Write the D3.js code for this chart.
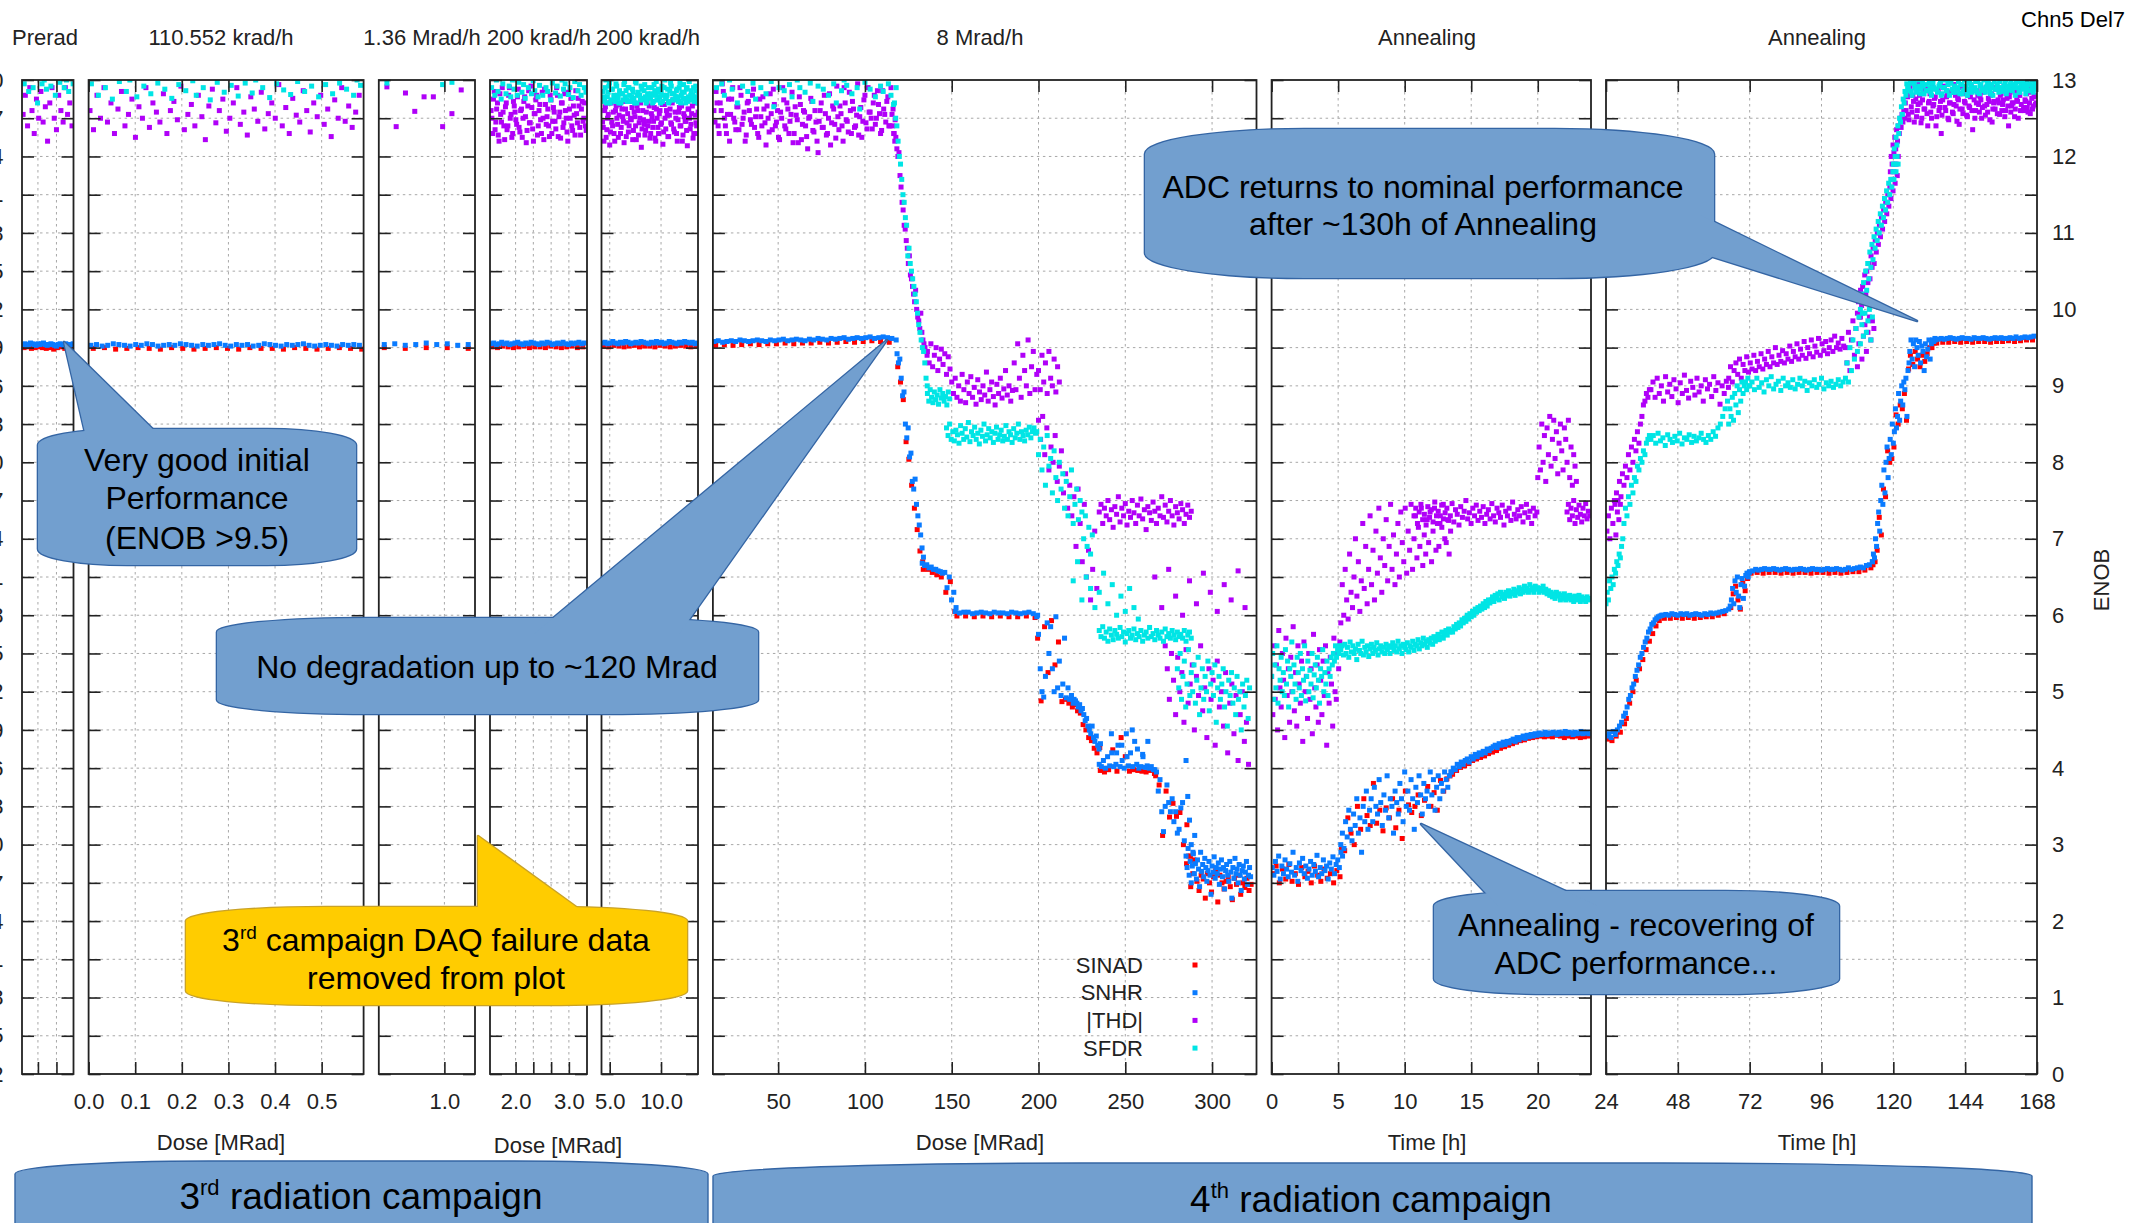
<!DOCTYPE html>
<html>
<head>
<meta charset="utf-8">
<script src="https://cdn.jsdelivr.net/npm/d3@7"></script>
<style>
  body { margin: 0; background: #fff; }
  svg text { font-family: "Liberation Sans", Arial, sans-serif; }
  .grid { stroke: #a8a8a8; stroke-width: 1; stroke-dasharray: 2.5,3.5; }
</style>
</head>
<body>
<div id="chart"></div>
<script>
// ---------------- data ----------------
const seriesNames = ["SINAD", "SNHR", "|THD|", "SFDR"];
const panelTitles = ["Prerad", "110.552 krad/h", "1.36 Mrad/h", "200 krad/h", "200 krad/h", "8 Mrad/h", "Annealing", "Annealing"];
const panelDomains = [[0.14, 2.92], [0, 0.59], [0.7, 1.14], [1.52, 3.34], [4.2, 13.6], [12.4, 325.6], [0, 24], [24, 168]];
const panelTicks = [[1, 2], [0, 0.1, 0.2, 0.3, 0.4, 0.5], [1.0], [2, 2.333, 2.667, 3], [5, 10],
  [50, 100, 150, 200, 250, 300], [0, 5, 10, 15, 20], [24, 48, 72, 96, 120, 144, 168]];
const panelTickLabels = [["", ""], ["0.0", "0.1", "0.2", "0.3", "0.4", "0.5"], ["1.0"], ["2.0", "", "", "3.0"], ["5.0", "10.0"],
  ["50", "100", "150", "200", "250", "300"], ["0", "5", "10", "15", "20"], ["24", "48", "72", "96", "120", "144", "168"]];
const xTitleText = ["Dose [MRad]", "Dose [MRad]", "Dose [MRad]", "Time [h]", "Time [h]"];
const enobLabels = [0, 1, 2, 3, 4, 5, 6, 7, 8, 9, 10, 11, 12, 13];
const dbLabels = [2, 5, 8, 11, 14, 17, 20, 23, 26, 29, 32, 35, 38, 41, 44, 47, 50, 53, 56, 59, 62, 65, 68, 71, 74, 77, 80];

// each series: list of segments [x0, step, [ENOB values]]
const p1_sinad = [[0.25, 0.2, [9.5,9.51,9.49,9.5,9.51,9.5,9.49,9.5,9.48,9.5,9.51,9.49,9.5,9.5]]];
const p1_snhr = [[0.2, 0.1, [9.54,9.55,9.53,9.54,9.56,9.55,9.54,9.53,9.55,9.54,9.55,9.56,9.54,9.53,9.54,9.55,9.54,9.53,9.52,9.54,9.55,9.54,9.53,9.55,9.54,9.53,9.54,9.55]]];
const p1_thd = [[0.2, 0.12, [12.55,12.8,12.4,12.9,12.6,12.3,12.75,12.5,12.85,12.45,12.65,12.2,12.7,12.9,12.5,12.35,12.8,12.6,12.45,12.9,12.55,12.7,12.4]]];
const p1_sfdr = [[0.26, 0.12, [12.95,13.1,12.85,13.2,12.9,13.05,12.7,13.15,12.95,13.0,12.88,13.1,12.92,13.2,12.8,13.05,12.97,13.1,12.9,13.0,12.85,13.15,12.95]]];

const p2_sinad = [[0.01, 0.024, [9.49,9.5,9.48,9.49,9.5,9.49,9.48,9.5,9.49,9.48,9.49,9.5,9.49,9.48,9.5,9.49,9.49,9.48,9.5,9.49,9.48,9.49,9.5,9.49,9.48]]];
const p2_snhr = [[0.005, 0.012, [9.53,9.54,9.52,9.53,9.55,9.54,9.53,9.52,9.54,9.53,9.55,9.54,9.52,9.53,9.54,9.53,9.55,9.54,9.53,9.52,9.54,9.53,9.54,9.55,9.53,9.52,9.54,9.53,9.54,9.52,9.53,9.55,9.54,9.53,9.52,9.54,9.53,9.54,9.55,9.53,9.52,9.53,9.54,9.53,9.52,9.54,9.53,9.54,9.53]]];
const p2_thd = [[0.003, 0.0075, [12.6,12.35,12.8,12.5,12.9,12.45,12.7,12.3,12.62,12.85,12.4,12.55,12.75,12.25,12.65,12.5,12.9,12.38,12.7,12.58,
  12.45,12.82,12.3,12.6,12.72,12.48,12.92,12.35,12.55,12.68,12.4,12.8,12.52,12.22,12.66,12.88,12.44,12.6,12.75,12.33,
  12.5,12.7,12.9,12.42,12.58,12.28,12.78,12.62,12.46,12.84,12.36,12.56,12.7,12.5,12.94,12.4,12.64,12.3,12.76,12.54,
  12.45,12.86,12.6,12.32,12.7,12.52,12.8,12.42,12.62,12.26,12.74,12.5,12.9,12.46,12.66,12.38,12.58,12.8]]];
const p2_sfdr = [[0.006, 0.0075, [12.95,13.2,12.8,13.05,12.9,13.25,12.75,13.1,12.98,13.3,12.85,13.0,13.15,12.78,13.22,12.92,13.05,12.82,13.18,12.96,
  13.1,12.88,13.28,12.76,13.02,12.94,13.2,12.86,13.12,12.99,12.8,13.25,12.9,13.08,12.74,13.16,12.97,13.3,12.84,13.04,
  12.93,13.2,12.79,13.1,12.96,13.26,12.83,13.0,13.14,12.9,13.22,12.77,13.06,12.95,13.18,12.87,13.3,12.81,13.02,12.98,
  13.12,12.85,13.24,12.92,13.06,12.78,13.2,12.94,13.1,12.82,13.28,12.96,13.04,12.88,13.16,12.8,13.0,12.93]]];

const p3_sinad = [[0.725, 0.096, [9.5,9.49,9.5,9.5,9.49]]];
const p3_snhr = [[0.725, 0.048, [9.54,9.55,9.53,9.54,9.56,9.54,9.55,9.53,9.54]]];
const p3_thd = [[0.737, 0.0425, [12.91,12.39,12.83,12.59,12.78,12.78,12.39,12.56,12.87]]];
const p3_sfdr = [[0.737, 0.0425, [12.96,13.2,13.1,13.3,13.15,13.2,12.94,12.97,13.1]]];

const p4_sinad = [[1.56, 0.1, [9.51,9.5,9.52,9.51,9.5,9.51,9.52,9.5,9.51,9.51,9.5,9.52,9.51,9.5,9.51,9.52,9.5,9.51]]];
const p4_snhr = [[1.54, 0.05, [9.55,9.56,9.54,9.55,9.57,9.55,9.56,9.54,9.55,9.56,9.57,9.55,9.54,9.56,9.55,9.57,9.56,9.55,9.54,9.56,9.55,9.57,9.56,9.54,9.55,9.56,9.55,9.57,9.55,9.54,9.56,9.55,9.56,9.57,9.55,9.56]]];
const p4_thd = [
  [1.54, 0.03, [12.6,12.3,12.85,12.45,12.7,12.2,12.55,12.9,12.4,12.65,12.35,12.8,12.5,12.25,12.72,12.58,12.42,12.88,12.32,12.62,
    12.5,12.78,12.18,12.66,12.44,12.92,12.36,12.56,12.74,12.28,12.6,12.48,12.84,12.22,12.68,12.52,12.4,12.8,12.3,12.64,
    12.46,12.9,12.26,12.58,12.7,12.38,12.82,12.5,12.2,12.62,12.76,12.34,12.54,12.86,12.44,12.66,12.28,12.72,12.5,12.4]],
  [1.555, 0.03, [12.5,12.75,12.35,12.62,12.28,12.82,12.45,12.58,12.22,12.7,12.4,12.9,12.55,12.3,12.66,12.48,12.78,12.38,12.6,12.25,
    12.72,12.52,12.34,12.86,12.44,12.64,12.2,12.56,12.8,12.4,12.68,12.3,12.5,12.88,12.42,12.62,12.26,12.74,12.46,12.58,
    12.36,12.8,12.52,12.24,12.7,12.44,12.6,12.32,12.84,12.5,12.4,12.66,12.28,12.56,12.76,12.38,12.62,12.46,12.7,12.34]]
];
const p4_sfdr = [[1.55, 0.03, [12.9,13.1,12.8,13.0,12.85,13.2,12.75,12.95,13.05,12.82,13.15,12.92,12.78,13.0,12.88,13.25,12.8,12.97,13.1,12.84,
  12.94,12.76,13.05,12.9,13.2,12.82,12.99,12.86,13.12,12.78,12.93,13.02,12.8,13.18,12.9,12.85,13.06,12.74,12.96,13.1,
  12.83,12.92,13.22,12.79,13.0,12.88,12.95,13.14,12.81,12.9,13.04,12.77,12.98,13.2,12.86,12.94,12.8,13.08,12.9,12.84]]];

const p5_sinad = [[4.4, 0.5, [9.52,9.51,9.53,9.52,9.51,9.52,9.53,9.51,9.52,9.52,9.51,9.53,9.52,9.51,9.52,9.53,9.52,9.51,9.52]]];
const p5_snhr = [[4.3, 0.25, [9.56,9.57,9.55,9.56,9.58,9.56,9.55,9.57,9.56,9.58,9.57,9.55,9.56,9.57,9.56,9.58,9.57,9.56,9.55,9.57,9.56,9.58,9.56,9.57,9.55,9.56,9.58,9.57,9.56,9.55,9.57,9.56,9.58,9.57,9.56,9.57,9.55,9.56]]];
const p5_thd = [
  [4.3, 0.14, [12.45,12.2,12.65,12.35,12.55,12.15,12.7,12.4,12.3,12.6,12.5,12.25,12.68,12.38,12.52,12.18,12.62,12.44,12.32,12.72,
    12.48,12.22,12.58,12.4,12.66,12.28,12.5,12.12,12.6,12.42,12.34,12.7,12.46,12.24,12.56,12.38,12.64,12.2,12.5,12.3,
    12.6,12.44,12.16,12.68,12.36,12.54,12.26,12.62,12.42,12.74,12.32,12.5,12.2,12.58,12.4,12.66,12.28,12.52,12.46,12.14,
    12.62,12.36,12.56,12.24,12.7,12.44,12.3]],
  [4.37, 0.14, [12.38,12.6,12.25,12.5,12.7,12.32,12.45,12.58,12.2,12.66,12.42,12.54,12.3,12.62,12.46,12.72,12.26,12.56,12.4,12.5,
    12.64,12.34,12.52,12.22,12.6,12.44,12.7,12.36,12.48,12.28,12.58,12.4,12.66,12.3,12.52,12.46,12.24,12.62,12.38,12.56,
    12.42,12.68,12.32,12.5,12.6,12.26,12.54,12.44,12.7,12.36,12.58,12.3,12.48,12.64,12.4,12.2,12.56,12.46,12.34,12.62,
    12.5,12.42,12.66,12.3,12.54,12.4,12.58]]
];
const p5_sfdr = [
  [4.35, 0.14, [12.85,12.72,13.0,12.78,12.92,12.7,12.88,13.1,12.75,12.95,12.8,12.7,13.05,12.82,12.74,12.98,12.86,12.72,12.9,13.15,
    12.78,12.84,12.7,12.96,12.8,13.02,12.74,12.88,12.76,12.94,12.7,12.82,13.08,12.78,12.9,12.72,12.86,12.98,12.74,12.84,
    12.7,12.92,12.8,13.0,12.76,12.88,12.72,12.96,12.82,12.74,13.04,12.86,12.78,12.9,12.7,12.84,12.94,12.76,12.88,12.72,
    12.98,12.8,12.74,12.9,12.78,12.86,12.7]],
  [4.42, 0.14, [12.78,12.9,12.7,12.84,12.96,12.74,12.88,12.8,12.72,12.92,12.76,12.86,12.7,12.82,12.94,12.78,12.74,12.9,12.8,12.72,
    12.88,12.76,12.98,12.7,12.84,12.8,12.92,12.74,12.86,12.78,12.72,12.9,12.76,12.82,12.7,12.94,12.8,12.74,12.88,12.78,
    12.84,12.72,12.9,12.76,12.8,12.7,12.86,12.92,12.74,12.82,12.78,12.88,12.72,12.96,12.8,12.76,12.84,12.7,12.9,12.78,
    12.74,12.86,12.8,12.72,12.92,12.76,12.84]]
];

const p6_sinad = [
  [14, 5, [9.53,9.54,9.53,9.54,9.55,9.54,9.55,9.55,9.56,9.55,9.56,9.56,9.57,9.56,9.57,9.58,9.57,9.58,9.59,9.58,9.57]],
  [118.9, 1.6, [9.25,9.05,8.82,8.27,8.04,7.7,7.4,7.12,6.84,6.7]],
  [133.6, 2.6, [6.6,6.6,6.56,6.53,6.5,6.3,6.44,6.05]],
  [153, 5, [5.99,5.99,5.98,5.99,5.98,5.99,5.98,5.98,5.99,5.97]],
  [199.5, 2, [5.7,4.88,5.85,5.25,5.93,5.35,5.65,4.87,4.9,4.85,4.8]],
  [220.9, 1.6, [4.83,4.75,4.72,4.57,4.5,4.4,4.36,4.26,4.2,4.27]],
  [235.6, 2.4, [3.97,3.95,3.98,4.24,3.96,4.4,4.15,3.96,3.98,3.97,3.96,3.95,3.97,3.93]],
  [267.5, 2, [3.9,3.78,3.12,3.7,3.36,3.54,3.37,3.42,3.0,3.26,2.85,2.8]],
  [285.3, 1.2, [2.75,2.85,2.45,2.62,2.78,2.52,2.4,2.6,2.55,2.3,2.62,2.5,2.38,2.58,2.66,2.25,2.6,2.5,2.42,2.52,2.58,2.45,2.28,2.56,2.48,2.6,2.35,2.5,2.44,2.56,2.4,2.48]]
];
const p6_snhr = [
  [13, 2.5, [9.58,9.59,9.57,9.58,9.59,9.58,9.6,9.59,9.58,9.59,9.6,9.59,9.58,9.6,9.59,9.6,9.61,9.59,9.6,9.61,
    9.6,9.59,9.61,9.6,9.62,9.61,9.6,9.62,9.61,9.62,9.63,9.61,9.62,9.63,9.62,9.63,9.64,9.62,9.63,9.64,9.63,9.62,9.6]],
  [118.5, 0.8, [9.42,9.3,9.35,9.1,8.87,8.92,8.5,8.32,8.45,8.07,8.12,7.75,7.65,7.78,7.45,7.3,7.18,7.05,6.88,6.76]],
  [133, 1.3, [6.68,6.65,6.66,6.62,6.63,6.6,6.6,6.58,6.57,6.55,6.56,6.36,6.5,6.2,6.3,6.1]],
  [152, 2.5, [6.05,6.03,6.04,6.04,6.02,6.03,6.04,6.03,6.02,6.04,6.03,6.03,6.02,6.04,6.03,6.02,6.03,6.04,6.02,6.0]],
  [199, 1.0, [5.98,5.75,5.3,5.0,4.93,5.2,5.9,5.5,5.85,5.3,5.0,5.98,5.05,5.4,4.95,5.1,5.7,4.92,5.05,4.9,4.95,4.85]],
  [220.5, 0.8, [4.9,4.88,4.85,4.8,4.83,4.75,4.78,4.7,4.62,4.65,4.55,4.5,4.45,4.55,4.4,4.35,4.42,4.3,4.25,4.32]],
  [242, 3, [4.45,4.2,4.3,4.15,4.5,4.25,4.18,4.35]],
  [235, 1.2, [4.05,4.02,4.1,4.0,4.15,4.03,4.2,4.02,4.05,4.3,4.02,4.1,4.0,4.45,4.03,4.2,4.02,4.35,4.05,4.0,4.02,4.15,4.01,4.03,4.0,4.02,3.98]],
  [267, 1.0, [3.98,3.95,3.7,3.85,3.43,3.17,3.5,3.78,3.55,3.43,3.6,3.3,3.43,3.15,3.2,3.48,3.55,3.05,4.1,3.63,3.32,3.0,2.9,3.12]],
  [285, 0.6, [2.85,2.7,2.95,2.6,2.78,2.5,2.72,2.88,2.62,2.75,2.55,2.8,2.68,2.45,2.9,2.65,2.74,2.58,2.82,2.7,
    2.52,2.66,2.78,2.6,2.35,2.72,2.64,2.84,2.56,2.7,2.62,2.76,2.48,2.68,2.8,2.58,2.7,2.42,2.66,2.74,
    2.6,2.52,2.78,2.64,2.3,2.7,2.56,2.82,2.62,2.68,2.5,2.74,2.6,2.4,2.66,2.72,2.55,2.64,2.78,2.48,2.6,2.7,2.58]]
];
const p6_thd = [
  [13, 1.2, [12.6,12.85,12.4,12.7,12.95,12.5,12.3,12.75,12.55,12.9,12.45,12.65,12.35,12.8,12.5,12.2,12.7,12.6,12.42,12.88,
    12.52,12.3,12.75,12.4,12.62,12.15,12.5,12.82,12.35,12.68,12.45,12.25,12.58,12.9,12.4,12.7,12.3,12.55,12.18,12.65,
    12.48,12.78,12.22,12.6,12.4,12.1,12.52,12.72,12.32,12.45,12.05,12.6,12.38,12.8,12.28,12.5,12.15,12.66,12.42,12.92,
    12.35,12.56,12.2,12.7,12.46,12.84,12.3,12.62,12.4,12.95,12.52,12.25,12.74,12.44,12.9,12.58,12.36,12.8,12.5,12.68,
    12.3,12.86,12.55,12.72,12.4,12.9,12.62,12.48]],
  [13.6, 1.2, [12.45,12.7,12.3,12.6,12.85,12.4,12.55,12.2,12.75,12.5,12.35,12.65,12.9,12.42,12.58,12.28,12.72,12.48,12.8,12.38,
    12.62,12.25,12.52,12.78,12.44,12.66,12.32,12.56,12.88,12.4,12.6,12.22,12.5,12.74,12.36,12.62,12.46,12.84,12.3,12.54,
    12.18,12.68,12.42,12.58,12.26,12.5,12.76,12.34,12.6,12.2,12.46,12.7,12.38,12.56,12.3,12.82,12.44,12.62,12.24,12.52,
    12.66,12.4,12.9,12.48,12.32,12.6,12.72,12.38,12.54,12.28,12.64,12.46,12.8,12.36,12.58,12.5,12.7,12.42,12.86,12.56,
    12.34,12.62,12.45,12.78,12.4,12.55,12.3]],
  [116, 0.6, [12.4,12.3,12.2,12.25,12.1,12.0,12.05,11.75,11.6,11.4,11.3,11.1,11.05,10.9,10.8,10.6,10.7,10.45,10.4,10.3,
    10.2,10.1,10.25,10.0,9.9,9.85,9.75,9.95,9.7,9.6,9.55,9.5,9.45,9.4]],
  [136, 1.0, [9.45,9.3,9.55,9.25,9.4,9.5,9.2,9.35,9.48,9.28,9.42,9.15,9.38,9.22,
    9.05,8.9,9.1,8.85,9.0,8.8,9.15,8.95,8.78,9.05,8.9,9.12,8.85,8.98,8.76,9.08,8.92,8.82,9.0,8.88,9.18,8.8,8.95,9.05,8.86,8.75,9.02,8.9,9.1,8.84,8.96,9.2,8.88,9.0,8.8,8.94,
    9.3,8.95,9.55,9.1,8.85,9.4,9.2,9.0,9.6,8.9,9.25,9.45,8.95,9.15]],
  [200, 1.0, [9.2,8.95,9.4,9.05,9.3,8.9,9.45,9.1,9.0,9.35,8.92,9.25,9.05]],
  [200, 1.2, [8.55,8.3,8.6,8.1,8.45,7.9,8.2,8.0,8.35,7.75,7.95,8.15,7.6,7.85,7.4,7.7,7.3,7.55,6.9,7.65,7.2,6.7,7.45,6.5,6.85,6.2,6.6,7.1,6.35]],
  [235, 1.0, [7.35,7.45,7.2,7.4,7.3,7.5,7.25,7.38,7.15,7.42,7.32,7.55,7.22,7.4,7.3,7.46,7.18,7.36,7.28,7.5,
    7.34,7.2,7.44,7.3,7.52,7.26,7.38,7.12,7.42,7.34,7.24,7.48,7.36,7.2,7.4,7.3,7.55,7.28,7.44,7.22,
    7.36,7.5,7.3,7.18,7.42,7.34,7.26,7.46,7.38,7.2,7.32,7.44,7.28,7.36]],
  [267, 4, [6.5,6.1,6.6,6.25,6.0,6.45,6.15,6.55,6.3,6.05,6.4,6.2,6.58,6.1]],
  [273, 1.2, [5.6,5.3,4.9,5.5,5.15,4.7,5.45,5.0,5.25,4.6,5.55,4.85,5.1,5.35,4.5,5.2,4.95,5.6,4.75,5.05,
    4.4,5.3,4.9,5.15,4.3,5.4,4.8,5.0,4.55,5.25,4.2,4.85,5.1,4.45,4.95,4.1,4.7,5.0,4.35,4.6,4.05]]
];
const p6_sfdr = [
  [13, 1.5, [13.1,12.9,13.25,12.95,12.8,13.15,13.0,12.88,13.2,12.7,13.05,12.92,13.3,12.85,13.1,12.96,12.75,13.2,12.9,13.05,
    12.82,13.15,12.98,12.65,13.25,12.9,13.08,12.86,13.18,12.94,12.78,13.1,13.0,12.9,13.22,12.84,13.06,12.96,12.72,13.15,
    12.92,13.28,12.88,13.02,12.8,13.12,12.95,12.7,13.2,12.86,13.0,12.93,13.16,12.82,13.05,12.9,12.62,13.1,12.97,13.25,
    12.88,13.04,12.78,13.14,12.92,12.85,13.2,12.95,12.8,12.68,12.9]],
  [117, 0.7, [12.7,12.5,12.4,12.2,12.0,11.9,11.7,11.5,11.4,11.2,11.1,10.7,10.8,10.6,10.5,10.4,10.3,10.2,10.1,9.95,9.8,9.7,9.6,9.5,9.45,9.3,9.1,9.0]],
  [136, 0.8, [8.9,8.8,8.95,8.85,8.78,8.92,8.82,8.88,8.76,8.95,8.84,8.9,8.8,8.86,8.75,8.92,8.83]],
  [147, 0.9, [8.45,8.35,8.5,8.3,8.4,8.28,8.42,8.36,8.25,8.48,8.38,8.3,8.44,8.33,8.52,8.27,8.4,8.35,8.46,8.3,
    8.38,8.24,8.42,8.34,8.5,8.28,8.36,8.44,8.32,8.4,8.26,8.38,8.46,8.3,8.36,8.42,8.28,8.34,8.48,8.3,
    8.4,8.36,8.26,8.44,8.32,8.38,8.5,8.3,8.4,8.35,8.28,8.42,8.36,8.46,8.32,8.4,8.45,8.38]],
  [199, 1.0, [8.4,8.1,8.3,7.9,8.2,7.7,8.35,7.95,8.05,7.6,8.15,7.8,7.5,8.0,7.65,7.85,7.4,7.75,7.3,7.55,7.9,7.2,7.45,7.65,7.25,7.5,7.35,7.0,7.3,6.9,7.15,6.8,7.05]],
  [220, 2.5, [6.45,6.7,6.2,6.5,6.35,6.1,6.3,6.55,6.15,6.4,6.0,6.25,6.05,6.35,6.1,5.95]],
  [235, 1.0, [5.8,5.72,5.85,5.7,5.78,5.66,5.82,5.74,5.68,5.8,5.75,5.7,5.84,5.72,5.78,5.65,5.76,5.8,5.7,5.74,
    5.82,5.68,5.76,5.72,5.8,5.66,5.74,5.78,5.7,5.84,5.72,5.76,5.68,5.8,5.74,5.7,5.78,5.66,5.82,5.72,
    5.76,5.7,5.8,5.74,5.68,5.78,5.72,5.75,5.7,5.8,5.66,5.74,5.78,5.7]],
  [280, 0.8, [5.3,5.05,5.5,4.9,5.2,5.4,4.8,5.1,5.55,4.95,5.25,5.0,5.35,4.85,5.15,5.45,4.7,5.05,5.3,4.9,
    5.2,5.0,5.4,4.75,5.1,5.25,4.95,5.35,4.6,5.05,5.2,4.9,5.1,5.3,4.8,5.0,4.55,5.15,4.95,5.25,
    4.85,5.05,4.7,5.2,4.9,5.0,4.5,5.1,4.8,4.95,5.15,4.65,5.05]]
];

const p7_sinad = [
  [0.1, 0.24, [2.62,2.72,2.5,2.68,2.55,2.74,2.52,2.62,2.48,2.7,2.58,2.65,2.5,2.72,2.6,2.52,2.68,2.56,2.62,2.5,2.66,2.58]],
  [5.25, 0.24, [2.95,2.92,3.35,3.15,3.0,3.5,3.2,3.6,3.38,3.25,3.8,3.28,3.45,3.18,3.48,3.35,3.6,3.22,3.45,3.08,3.7,3.52,3.42,3.5,3.65,3.38,3.58,3.76,3.5,3.68,3.45,3.84,3.7,3.86,3.9]],
  [13.6, 0.3, [3.92,3.97,4.01,4.03,4.06,4.1,4.12,4.14,4.16,4.19]],
  [16.6, 0.3, [4.21,4.23,4.26,4.28,4.3,4.32,4.34,4.36,4.37,4.39,4.4,4.41,4.42,4.41,4.42,4.41,4.43,4.42,4.4,4.42,4.41,4.42,4.4,4.41,4.42]]
];
const p7_snhr = [
  [0.05, 0.12, [2.7,2.6,2.78,2.65,2.85,2.55,2.72,2.62,2.8,2.68,2.58,2.75,2.64,2.9,2.6,2.7,2.52,2.76,2.66,2.82,
    2.62,2.72,2.56,2.68,2.78,2.6,2.74,2.65,2.86,2.58,2.7,2.62,2.8,2.66,2.72,2.55,2.76,2.68,2.84,2.62,2.74,2.8,2.7,2.9,2.85]],
  [5.2, 0.12, [3.0,3.15,2.95,3.3,3.1,3.45,3.2,3.05,3.4,3.25,3.6,3.15,3.35,2.9,3.5,3.3,3.7,3.2,
    3.45,3.6,3.3,3.75,3.5,3.4,3.85,3.55,3.25,3.65,3.45,3.9,3.35,3.6,3.5,3.15,3.7,3.55,
    3.4,3.8,3.6,3.3,3.95,3.5,3.7,3.45,3.85,3.6,3.2,3.75,3.55,3.9,3.65,3.4,3.8,3.6,
    3.7,3.5,3.95,3.65,3.85,3.45,3.75,3.9,3.6,3.8,3.7,3.95,3.85,3.75,3.9,3.95]],
  [13.5, 0.15, [3.95,4.0,3.98,4.05,4.02,4.08,4.05,4.1,4.12,4.08,4.15,4.12,4.18,4.15,4.2,4.18,4.22,4.2,4.25,4.23]],
  [16.5, 0.15, [4.26,4.28,4.3,4.27,4.32,4.3,4.34,4.31,4.35,4.33,4.36,4.38,4.35,4.4,4.37,4.4,4.42,4.39,4.43,4.41,
    4.44,4.42,4.45,4.43,4.46,4.44,4.45,4.47,4.44,4.46,4.45,4.47,4.46,4.44,4.47,4.45,4.46,4.48,4.45,4.47,
    4.46,4.44,4.47,4.45,4.46,4.48,4.45,4.46,4.47,4.45]]
];
const p7_thd = [
  [0, 0.09, [5.2,4.7,5.6,4.9,5.35,4.5,5.8,5.05,4.8,5.5,5.15,4.4,5.7,4.95,5.3,4.6,5.45,5.0,5.85,4.75,
    5.25,4.55,5.6,5.1,4.85,5.4,4.35,5.65,5.0,5.2,4.65,5.5,4.9,5.3,4.45,5.75,5.05,4.8,5.35,4.6,
    5.55,5.15,4.7,5.4,4.95,5.6,4.3,5.25,4.85,5.45,5.1,4.55,5.7,5.0,4.9,5.5,5.3,5.65]],
  [5.2, 0.11, [5.9,6.4,6.0,6.6,6.2,5.95,6.8,6.3,6.1,6.5,7.0,6.25,6.7,6.05,6.45,7.2,6.35,6.9,6.15,
    6.6,7.3,6.4,6.85,6.2,7.1,6.55,7.4,6.75,6.3,7.0,6.65,7.25,6.45,6.9,7.45,6.6,7.05,6.4,
    6.8,7.2,6.5,7.35,6.95,6.7,7.4,6.55,7.1,6.85,7.45,6.6,7.0,7.3,6.75,7.15,6.9,7.4,6.65,
    7.05,6.8,7.25,6.95,7.35,6.7,7.1,7.4,6.85,7.2,6.9,7.3,7.15,7.45,7.0,6.95,7.25,6.8,7.1]],
  [10.7, 0.13, [7.3,7.4,7.2,7.35,7.45,7.25,7.32,7.18,7.42,7.28,7.38,7.22,7.48,7.3,7.36,7.2,7.44,7.26,7.34,7.4,
    7.24,7.3,7.46,7.22,7.38,7.32,7.18,7.42,7.28,7.36,7.5,7.26,7.34,7.2,7.4,7.3,7.44,7.24,7.36,7.28,
    7.42,7.2,7.32,7.38,7.26,7.46,7.3,7.22,7.4,7.34,7.28,7.44,7.18,7.36,7.3,7.4,7.24,7.48,7.32,7.26,
    7.38,7.3,7.42,7.22,7.34,7.45,7.28,7.36,7.2,7.4,7.3,7.35]],
  [20, 0.1, [7.8,8.2,7.9,8.5,8.0,8.35,7.75,8.45,8.1,8.6,7.95,8.3,8.55,8.05,8.4,7.85,8.25,8.5,8.15,7.9,8.45,8.3,8.0,8.55,7.8,8.2,7.7,8.1,7.95,7.75]],
  [22.2, 0.1, [7.35,7.45,7.25,7.4,7.3,7.5,7.2,7.38,7.28,7.44,7.32,7.22,7.4,7.3,7.46,7.26,7.36,7.3]]
];
const p7_sfdr = [
  [0, 0.08, [5.2,5.5,4.9,5.35,5.05,5.6,4.85,5.3,5.15,5.45,5.0,5.25,4.95,5.55,5.1,5.4,4.8,5.3,5.2,5.65,
    5.0,5.35,5.1,4.9,5.45,5.25,5.05,5.5,4.95,5.3,5.15,5.6,4.88,5.2,5.4,5.0,5.28,5.1,5.5,4.92,
    5.22,5.35,5.05,5.45,5.15,4.85,5.3,5.2,5.55,5.0,5.25,5.1,5.4,4.95,5.3,5.2,5.45,5.35,5.5,5.4,5.6,5.45,5.55,5.5,5.6]],
  [5.2, 0.1, [5.55,5.6,5.48,5.62,5.5,5.58,5.45,5.65,5.52,5.6,5.5,5.56,5.42,5.62,5.54,5.5,5.66,5.48,5.58,5.52,
    5.6,5.46,5.56,5.62,5.5,5.58,5.54,5.64,5.48,5.56,5.6,5.52,5.58,5.5,5.62,5.55,5.6,5.5,5.58,5.64,
    5.54,5.6,5.52,5.66,5.56,5.6,5.5,5.62,5.58,5.55,5.64,5.52,5.6,5.58,5.66,5.54,5.62,5.6,5.68,5.56,
    5.64,5.6,5.7,5.62,5.66,5.58,5.68,5.64,5.7,5.62,5.72,5.66,5.7,5.75,5.68,5.72,5.78,5.7,5.76,5.8,5.74,5.82,5.78]],
  [13.5, 0.1, [5.8,5.78,5.85,5.82,5.88,5.84,5.9,5.86,5.94,5.9,5.96,5.92,6.0,5.95,6.02,5.98,6.05,6.0,6.08,6.04,6.1,6.06,6.12,6.08,6.15,6.1,6.18,6.12,6.2,6.16]],
  [16.5, 0.1, [6.2,6.24,6.18,6.26,6.22,6.28,6.2,6.3,6.24,6.27,6.22,6.3,6.26,6.32,6.25,6.3,6.28,6.34,6.26,6.32,
    6.3,6.36,6.28,6.34,6.3,6.38,6.32,6.35,6.3,6.4,6.33,6.36,6.3,6.38,6.34,6.36,6.3,6.35,6.32,6.38,
    6.3,6.34,6.28,6.32,6.26,6.3,6.24,6.28,6.22,6.3,6.25,6.28,6.2,6.26,6.22,6.28,6.2,6.25,6.22,6.26,
    6.2,6.24,6.18,6.25,6.22,6.2,6.26,6.18,6.24,6.2,6.22,6.18,6.24,6.2,6.22]]
];

const p8_sinad = [
  [24.6, 1.4, [4.38,4.36,4.42,4.47,4.58]],
  [30.8, 1.1, [4.65,4.85,5.0,5.15,5.3,5.42,5.55,5.66,5.76,5.86,5.93]],
  [43.5, 2, [5.96,5.96,5.97,5.96,5.97,5.96,5.97,5.98,5.98,6.0,6.02]],
  [65.7, 0.8, [6.1,6.28,6.38,6.2,6.08,6.42,6.32,6.48]],
  [72.5, 2, [6.55,6.56,6.55,6.56,6.56,6.55,6.56,6.55,6.56,6.56,6.55,6.56,6.56,6.55,6.56,6.55,6.56,6.57,6.57,6.59,6.62]],
  [113.2, 0.7, [6.66,6.7,6.85,7.28,7.05,7.65,7.55,8.15,8.0,8.05,8.2,8.62,8.5,8.75,8.7,8.9,8.55,9.22]],
  [125.7, 0.8, [9.4,9.28,9.45,9.35,9.25,9.4,9.32,9.42,9.5,9.5,9.56]],
  [134.5, 2, [9.56,9.57,9.57,9.58,9.57,9.58,9.57,9.58,9.58,9.57,9.58,9.58,9.59,9.58,9.59,9.6,9.6]]
];
const p8_snhr = [
  [24.3, 0.7, [4.42,4.45,4.4,4.48,4.44,4.5,4.55,4.6,4.68]],
  [30.5, 0.55, [4.72,4.8,4.9,4.95,5.05,5.1,5.2,5.28,5.35,5.45,5.5,5.58,5.65,5.7,5.78,5.82,5.88,5.9,5.94,5.96,5.98,5.99,6.0]],
  [43, 1.0, [6.0,6.01,6.0,6.02,6.01,6.0,6.02,6.01,6.02,6.0,6.01,6.02,6.01,6.0,6.02,6.01,6.03,6.02,6.03,6.04,6.05,6.06,6.08]],
  [65.5, 0.4, [6.12,6.2,6.35,6.15,6.45,6.3,6.5,6.25,6.1,6.4,6.48,6.22,6.38,6.52,6.55,6.5,6.56]],
  [72, 1.0, [6.57,6.58,6.6,6.59,6.6,6.61,6.6,6.6,6.61,6.6,6.59,6.6,6.61,6.6,6.59,6.6,6.6,6.61,6.6,6.59,6.6,6.61,6.6,6.6,6.59,6.6,6.61,6.6,6.6,6.61,6.6,6.59,6.6,6.62,6.6,6.61,6.62,6.63,6.62,6.65,6.66,6.7]],
  [113, 0.35, [6.7,6.8,6.75,7.0,6.9,7.2,7.35,7.1,7.5,7.7,7.45,7.9,7.6,8.0,8.2,7.8,8.05,8.3,8.1,8.5,8.25,8.4,8.7,8.45,8.6,8.9,8.55,8.8,9.0,8.75,9.05,8.95,9.1,8.6,9.2,9.3]],
  [125.5, 0.4, [9.45,9.6,9.35,9.55,9.25,9.6,9.5,9.4,9.58,9.3,9.52,9.45,9.2,9.55,9.38,9.48,9.6,9.35,9.55,9.6,9.58,9.62]],
  [134, 1.0, [9.6,9.61,9.62,9.61,9.62,9.63,9.62,9.61,9.62,9.63,9.62,9.62,9.61,9.63,9.62,9.62,9.63,9.62,9.61,9.62,9.63,9.62,9.63,9.62,9.62,9.63,9.62,9.64,9.62,9.63,9.64,9.63,9.64,9.65]]
];
const p8_thd = [
  [24.3, 0.5, [7.1,7.3,7.0,7.4,7.2,7.5,7.05,7.35,7.25,7.45]],
  [27, 0.5, [7.45,7.6,7.5,7.75,7.55,7.85,7.7,7.95,7.8,8.1,7.9,8.2,8.0,8.3,8.15,8.4,8.25,8.5,8.6,8.75,8.8,8.9,8.85,8.95]],
  [39, 0.7, [8.95,9.05,8.85,9.1,8.9,9.0,8.8,9.12,8.92,9.02,8.86,9.08,8.96,8.78,9.04,8.9,9.14,8.94,8.84,9.06,
    8.98,8.88,9.1,8.92,9.0,8.8,9.08,8.96,9.02,8.86,9.12,8.94,9.04,8.76,9.0,8.9,9.06,8.98]],
  [65, 0.6, [9.1,9.25,9.05,9.2,9.3,9.15,9.35,9.1,9.28,9.2,9.38,9.18,9.3,9.22,9.4,9.2,9.32,9.25,9.42,9.22,
    9.35,9.28,9.45,9.25,9.38,9.3,9.5,9.28,9.4,9.32,9.46,9.3,9.42,9.35,9.52,9.32,9.45,9.38,9.55,9.35,
    9.48,9.4,9.58,9.36,9.5,9.42,9.6,9.38,9.52,9.44,9.62,9.4,9.55,9.46,9.58,9.42,9.5,9.6,9.45,9.65,9.5,9.56,9.48,9.62,9.52]],
  [104, 0.5, [9.5,9.3,9.7,9.2,9.6,9.85,9.4,9.75,9.25,9.55,9.9,9.35,9.65,9.8,9.45,9.7,9.9,9.6,9.85,9.75]],
  [108, 0.35, [9.95,10.1,9.9,10.25,10.05,10.3,10.15,10.45,10.2,10.5,10.35,10.6,10.4,10.7,10.55,10.8,10.6,10.9,10.75,11.0,
    10.85,11.1,10.95,11.2,11.05,11.3,11.15,11.4,11.25,11.5,11.35,11.6,11.45,11.7,11.55,11.8,11.65,11.9,11.75,12.0]],
  [119, 0.3, [11.8,12.0,11.9,12.15,12.05,12.25,12.1,12.35,12.2,12.4,12.3,12.5,12.38,12.55,12.45,12.6,12.5]],
  [124, 0.5, [12.7,12.85,12.55,12.9,12.65,12.8,12.45,12.75,12.6,12.95,12.7,12.5,12.82,12.62,12.88,12.4,12.72,12.58,12.92,12.68,
    12.78,12.52,12.86,12.64,12.3,12.74,12.9,12.6,12.8,12.48,12.7,12.84,12.56,12.94,12.66,12.76,12.42,12.82,12.62,12.88,
    12.7,12.54,12.8,12.64,12.92,12.35,12.74,12.6,12.86,12.68,12.78,12.5,12.84,12.66,12.9,12.58,12.72,12.8,12.45,12.7,
    12.62,12.88,12.74,12.55,12.82,12.68,12.92,12.6,12.76,12.4,12.84,12.66,12.7,12.52,12.86,12.72,12.8,12.6,12.9,12.64,
    12.74,12.82,12.58,12.7,12.88,12.62,12.78,12.68]],
  [124.25, 0.5, [12.6,12.78,12.48,12.84,12.58,12.72,12.9,12.52,12.68,12.8,12.44,12.74,12.62,12.88,12.56,12.7,12.82,12.5,12.66,12.76,
    12.4,12.86,12.6,12.72,12.54,12.92,12.64,12.78,12.5,12.7,12.84,12.58,12.68,12.8,12.46,12.74,12.62,12.9,12.56,12.72,
    12.82,12.52,12.66,12.78,12.6,12.86,12.5,12.7,12.8,12.58,12.74,12.64,12.88,12.54,12.68,12.76,12.48,12.82,12.62,12.72,
    12.9,12.56,12.7,12.8,12.6,12.74,12.52,12.84,12.66,12.78,12.58,12.7,12.86,12.62,12.74,12.5,12.8,12.68,12.92,12.6,
    12.72,12.64,12.84,12.56,12.76,12.66,12.8,12.7]]
];
const p8_sfdr = [
  [24, 0.4, [6.15,6.3,6.2,6.45,6.35,6.5,6.4,6.6,6.55,6.7,6.65,6.8,6.75,6.9,7.0]],
  [30, 0.5, [7.2,7.4,7.3,7.55,7.45,7.7,7.6,7.8,7.75,7.95,7.9,8.05,8.0,8.15,8.1,8.25,8.3,8.35]],
  [39, 0.8, [8.3,8.35,8.25,8.38,8.28,8.32,8.22,8.36,8.3,8.26,8.34,8.28,8.38,8.24,8.32,8.3,8.36,8.26,8.34,8.28,8.32,8.38,8.3,8.26,8.35,8.3,8.4,8.34,8.45,8.5,8.6,8.7,8.8]],
  [65, 0.4, [8.5,8.7,8.6,8.85,8.55,8.9,8.75,9.0,8.65,8.95,8.8,9.05,8.9,9.0,9.05,8.95,9.1,9.0]],
  [72, 0.8, [9.0,9.05,8.95,9.1,8.98,9.04,8.92,9.08,9.0,9.12,8.96,9.02,9.06,8.94,9.1,9.0,9.04,8.98,9.08,8.96,
    9.02,9.1,9.0,9.06,8.94,9.04,9.0,9.08,8.98,9.02,9.1,8.96,9.04,9.0,9.06,8.98,9.02,9.08,9.0,9.05]],
  [104, 0.5, [9.1,9.3,9.05,9.5,9.2,9.6,9.35,9.75,9.45,9.9,9.55,9.8,9.65,9.95,9.7,9.85,10.0,9.6,9.9,10.05]],
  [109, 0.35, [10.0,10.2,9.95,10.35,10.1,10.5,10.25,10.6,10.4,10.75,10.55,10.85,10.65,10.95,10.8,11.05,10.9,11.15,11.0,11.25,
    11.1,11.35,11.2,11.45,11.3,11.55,11.4,11.65,11.5,11.7,11.6,11.8,11.7,11.9,11.8,12.0,11.9]],
  [120, 0.3, [11.9,12.1,12.0,12.25,12.15,12.4,12.3,12.5,12.45,12.65,12.55,12.75,12.7,12.85,12.8,12.95,12.9]],
  [125, 0.5, [12.9,13.05,12.85,13.1,12.95,13.2,12.88,13.0,12.82,13.15,12.92,13.05,12.86,13.1,12.96,12.84,13.2,12.9,13.02,12.88,
    13.12,12.94,12.8,13.06,12.9,13.18,12.86,13.0,12.96,13.1,12.84,12.92,13.15,12.88,13.04,12.94,12.82,13.08,12.9,13.2,
    12.86,13.0,12.94,13.12,12.88,12.98,12.84,13.06,12.92,13.16,12.86,13.02,12.9,12.96,13.1,12.82,12.94,13.04,12.88,13.2,
    12.9,12.98,12.85,13.08,12.92,13.0,12.86,13.14,12.94,12.88,13.06,12.9,12.96,13.1,12.84,13.02,12.92,12.98,13.18,12.88,
    12.94,13.04,12.86,13.0,12.92,12.96]],
  [125.25, 0.5, [12.86,12.96,12.8,13.0,12.9,12.84,13.05,12.92,12.88,12.98,12.82,12.94,13.02,12.86,12.9,12.8,12.96,12.88,13.04,12.84,
    12.92,12.98,12.82,12.9,13.0,12.86,12.94,12.8,12.96,12.88,13.02,12.84,12.9,12.98,12.82,12.94,12.86,13.0,12.92,12.8,
    12.96,12.88,12.84,13.04,12.9,12.86,12.98,12.82,12.94,12.88,13.0,12.84,12.92,12.96,12.86,12.9,12.8,12.98,12.88,12.94,
    12.84,13.02,12.9,12.86,12.96,12.82,12.92,12.88,13.0,12.86,12.94,12.8,12.98,12.9,12.84,12.96,12.88,12.92,12.82,13.0,
    12.86,12.94,12.9,12.84,12.98,12.88]]
];

const panelSeries = [
  [p1_sinad, p1_snhr, p1_thd, p1_sfdr], [p2_sinad, p2_snhr, p2_thd, p2_sfdr],
  [p3_sinad, p3_snhr, p3_thd, p3_sfdr], [p4_sinad, p4_snhr, p4_thd, p4_sfdr],
  [p5_sinad, p5_snhr, p5_thd, p5_sfdr], [p6_sinad, p6_snhr, p6_thd, p6_sfdr],
  [p7_sinad, p7_snhr, p7_thd, p7_sfdr], [p8_sinad, p8_snhr, p8_thd, p8_sfdr]
];

// ---------------- layout ----------------
const W = 2129, H = 1223;
const plotTop = 80, plotBottom = 1074;
const panelPx = [[22, 73.5], [88.6, 363.6], [378.8, 475], [490, 587], [601.5, 698], [712.9, 1256.5], [1271.6, 1591], [1606, 2037]];
const titleX = [45, 221, 422, 539, 648, 980, 1427, 1817];
const xTitlePos = [[221, 1150], [558, 1153], [980, 1150], [1427, 1150], [1817, 1150]];
const seriesColors = ["#ff0000", "#0a7bff", "#b000f8", "#00e5e5"];
const ink = "#222";
const dot = 5;

const svg = d3.select("#chart").append("svg").attr("width", W).attr("height", H);
const defs = svg.append("defs");
svg.append("rect").attr("width", W).attr("height", H).attr("fill", "#fff");

const y = d3.scaleLinear().domain([0, 13]).range([plotBottom, plotTop]);
const halfTicks = d3.range(0, 27).map(i => i * 0.5);

function styleAxis(g) {
  g.select(".domain").remove();
  g.selectAll(".tick line").attr("stroke", ink).attr("stroke-width", 1.6);
  g.attr("font-size", 22).attr("font-family", "Liberation Sans, Arial, sans-serif");
  g.selectAll(".tick text").attr("fill", ink);
}

panelPx.forEach((px, k) => {
  const x = d3.scaleLinear().domain(panelDomains[k]).range(px);
  const g = svg.append("g");

  defs.append("clipPath").attr("id", `clip${k}`).append("rect")
    .attr("x", px[0]).attr("y", plotTop).attr("width", px[1] - px[0]).attr("height", plotBottom - plotTop);

  // dotted grid
  g.append("g").selectAll("line").data(halfTicks.filter(t => t > 0 && t < 13)).join("line")
    .attr("class", "grid").attr("x1", px[0]).attr("x2", px[1]).attr("y1", d => y(d)).attr("y2", d => y(d));
  g.append("g").selectAll("line")
    .data(panelTicks[k].filter(t => x(t) - px[0] > 2 && px[1] - x(t) > 2)).join("line")
    .attr("class", "grid").attr("x1", d => x(d)).attr("x2", d => x(d)).attr("y1", plotTop).attr("y2", plotBottom);

  // scatter points
  const pts = g.append("g").attr("clip-path", `url(#clip${k})`);
  panelSeries[k].forEach((segs, s) => {
    const flat = segs.flatMap(([x0, dx, ys]) => ys.map((v, i) => [x0 + i * dx, v]));
    pts.append("g").attr("fill", seriesColors[s]).selectAll("rect").data(flat).join("rect")
      .attr("x", d => x(d[0]) - dot / 2).attr("y", d => y(d[1]) - dot / 2)
      .attr("width", dot).attr("height", dot);
  });

  // ticks on all four sides (pointing inward)
  g.append("g").attr("transform", `translate(${px[0]},0)`)
    .call(d3.axisLeft(y).tickValues(halfTicks).tickSize(-12).tickFormat("")).call(styleAxis);
  g.append("g").attr("transform", `translate(${px[1]},0)`)
    .call(d3.axisRight(y).tickValues(halfTicks).tickSize(-12).tickFormat("")).call(styleAxis);
  g.append("g").attr("transform", `translate(0,${plotBottom})`)
    .call(d3.axisBottom(x).tickValues(panelTicks[k]).tickSize(-12).tickPadding(19)
      .tickFormat((d, i) => panelTickLabels[k][i])).call(styleAxis);
  g.append("g").attr("transform", `translate(0,${plotTop})`)
    .call(d3.axisTop(x).tickValues(panelTicks[k]).tickSize(-12).tickFormat("")).call(styleAxis);

  g.append("rect").attr("x", px[0]).attr("y", plotTop).attr("width", px[1] - px[0]).attr("height", plotBottom - plotTop)
    .attr("fill", "none").attr("stroke", ink).attr("stroke-width", 1.8);

  // panel title
  svg.append("text").attr("x", titleX[k]).attr("y", 45).attr("text-anchor", "middle")
    .attr("font-size", 22).attr("fill", ink).text(panelTitles[k]);
});

// x axis titles
xTitleText.forEach((t, i) => {
  svg.append("text").attr("x", xTitlePos[i][0]).attr("y", xTitlePos[i][1])
    .attr("text-anchor", "middle").attr("font-size", 22).attr("fill", ink).text(t);
});

// right ENOB axis labels
svg.append("g").attr("transform", `translate(${panelPx[7][1]},0)`)
  .call(d3.axisRight(y).tickValues(enobLabels).tickSize(0).tickPadding(15).tickFormat(d3.format("d")))
  .call(styleAxis);
svg.append("text").attr("transform", `translate(2109,580) rotate(-90)`).attr("text-anchor", "middle")
  .attr("font-size", 22).attr("fill", ink).text("ENOB");

// left dB axis labels (mostly cut off by the image edge, as in the original)
svg.append("g").selectAll("text").data(dbLabels).join("text")
  .attr("x", 3.5).attr("y", (d, i) => y(halfTicks[i])).attr("dy", "0.35em").attr("text-anchor", "end")
  .attr("font-size", 22).attr("fill", ink).text(d => d);

svg.append("text").attr("x", 2125).attr("y", 27).attr("text-anchor", "end").attr("font-size", 22)
  .attr("fill", "#000").text("Chn5 Del7");

// legend
const leg = svg.append("g");
seriesNames.forEach((n, i) => {
  const ly = 965 + i * 27.7;
  leg.append("text").attr("x", 1143).attr("y", ly).attr("dy", "0.35em").attr("text-anchor", "end")
    .attr("font-size", 22).attr("fill", ink).text(n);
  leg.append("rect").attr("x", 1195 - dot / 2).attr("y", ly - dot / 2).attr("width", dot).attr("height", dot)
    .attr("fill", seriesColors[i]);
});

// ---------------- callouts ----------------
function boxPath(x, y0, w, h, ry) {
  const rx = w * 0.28;
  return `M${x + rx},${y0} L${x + w - rx},${y0} A${rx},${ry} 0 0 1 ${x + w},${y0 + ry} L${x + w},${y0 + h - ry}` +
    ` A${rx},${ry} 0 0 1 ${x + w - rx},${y0 + h} L${x + rx},${y0 + h} A${rx},${ry} 0 0 1 ${x},${y0 + h - ry}` +
    ` L${x},${y0 + ry} A${rx},${ry} 0 0 1 ${x + rx},${y0} Z`;
}

const callouts = [
  { box: [38, 429, 318, 136, 16], ptr: [[88, 446], [170, 446], [64, 342]], fill: "#729fcf", stroke: "#3465a4",
    cx: 197, lines: [["Very good initial", 471], ["Performance", 509], ["(ENOB >9.5)", 549]] },
  { box: [217, 618, 541, 96, 14], ptr: [[534, 634], [679, 634], [887, 340]], fill: "#729fcf", stroke: "#3465a4",
    cx: 487, lines: [["No degradation up to ~120 Mrad", 678]] },
  { box: [1145, 129, 569, 149, 25], ptr: [[1700, 215], [1700, 253], [1917, 321]], fill: "#729fcf", stroke: "#3465a4",
    cx: 1423, lines: [["ADC returns to nominal performance", 198], ["after ~130h of Annealing", 235]] },
  { box: [1434, 891, 405, 103, 15], ptr: [[1498, 906], [1598, 906], [1421, 824]], fill: "#729fcf", stroke: "#3465a4",
    cx: 1636, lines: [["Annealing - recovering of", 936], ["ADC performance...", 974]] },
  { box: [186, 907, 501, 98, 14], ptr: [[478, 922], [597, 922], [478, 836]], fill: "#ffcc00", stroke: "#c9a227",
    cx: 436, lines: [["§3|rd| campaign DAQ failure data", 951], ["removed from plot", 989]] }
];

const ann = svg.append("g");
callouts.forEach(c => {
  const [bx, by, bw, bh, ry] = c.box;
  const tri = "M" + c.ptr.map(p => p.join(",")).join("L") + "Z";
  ann.append("path").attr("d", boxPath(bx, by, bw, bh, ry)).attr("fill", c.fill).attr("stroke", c.stroke).attr("stroke-width", 2.6);
  ann.append("path").attr("d", tri).attr("fill", c.fill).attr("stroke", c.stroke).attr("stroke-width", 2.6).attr("stroke-linejoin", "round");
  ann.append("path").attr("d", boxPath(bx, by, bw, bh, ry)).attr("fill", c.fill);
  ann.append("path").attr("d", tri).attr("fill", c.fill);
  c.lines.forEach(([t, ly]) => {
    const txt = ann.append("text").attr("x", c.cx).attr("y", ly).attr("text-anchor", "middle")
      .attr("font-size", 32).attr("fill", "#000");
    if (t.startsWith("§")) {
      const parts = t.slice(1).split("|");
      txt.append("tspan").text(parts[0]);
      txt.append("tspan").attr("font-size", 19).attr("dy", -12).text(parts[1]);
      txt.append("tspan").attr("dy", 12).text(parts[2]);
    } else {
      txt.text(t);
    }
  });
});

// campaign banners at the bottom
const banners = [
  { x: 15, y: 1161, w: 693, num: "3", sup: "rd", cx: 361, by: 1209 },
  { x: 713, y: 1163, w: 1319, num: "4", sup: "th", cx: 1371, by: 1212 }
];
banners.forEach(b => {
  ann.append("path").attr("d", boxPath(b.x, b.y, b.w, 110, 13)).attr("fill", "#729fcf")
    .attr("stroke", "#3465a4").attr("stroke-width", 1.4);
  const t = ann.append("text").attr("x", b.cx).attr("y", b.by).attr("text-anchor", "middle")
    .attr("font-size", 37).attr("fill", "#000");
  t.append("tspan").text(b.num);
  t.append("tspan").attr("font-size", 22).attr("dy", -14).text(b.sup);
  t.append("tspan").attr("dy", 14).text(" radiation campaign");
});
</script>
</body>
</html>
